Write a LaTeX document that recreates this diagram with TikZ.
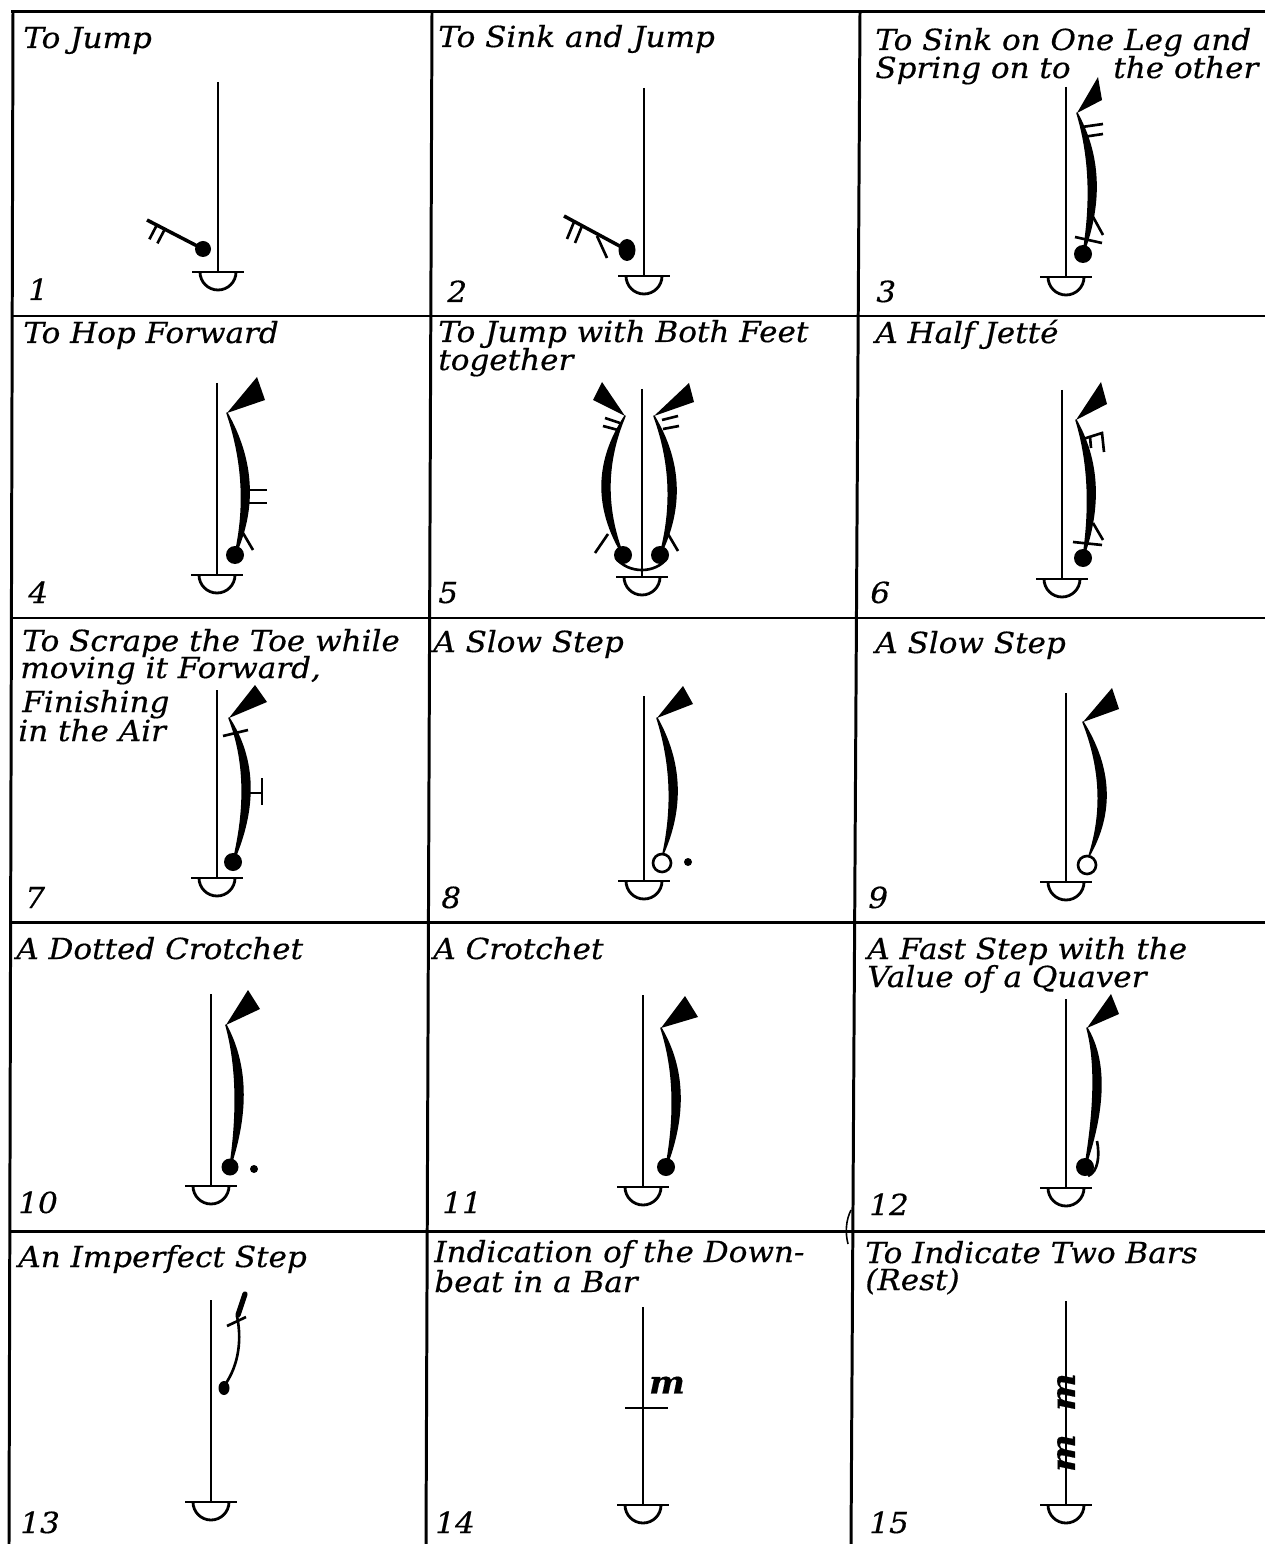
\documentclass[tikz,border=0pt]{standalone}
\usepackage{fontspec}
\setmainfont{DejaVu Serif}[FakeStretch=1.07, FakeBold=0.5]
\usetikzlibrary{calc}

% thick tapered stem from the flag joint (#1) through (#2) down to the foot (#3)
\newcommand{\legstem}[3]{%
  \filldraw[leg] (#1) .. controls ($1.3333*(#2)-0.3333*(#3)+(5.2,0)$) and ($1.3333*(#2)-0.3333*(#1)+(5.2,0)$) .. (#3)
    .. controls ($1.3333*(#2)-0.3333*(#1)-(5.2,0)$) and ($1.3333*(#2)-0.3333*(#3)-(5.2,0)$) .. cycle;}

\begin{document}
\begin{tikzpicture}[x=0.2mm, y=-0.2mm,
  grid/.style={line width=1.7pt},
  staff/.style={line width=1.1pt},
  foot/.style={line width=1.6pt},
  sign/.style={line width=1.5pt},
  leg/.style={line width=0.9pt, line join=round},
  lbl/.style={anchor=base west, inner sep=0pt, font=\fontsize{16.5}{18}\selectfont\itshape}]

  \useasboundingbox (0,0) rectangle (1265,1544);

  % Ruled table
  \draw[grid] (11,12) -- (1265,12);
  \foreach \y in {316,618,922,1231}
    \draw[grid] (11,\y) -- (1265,\y);
  \draw[grid] (13,12) -- (9,1544);
  \draw[grid] (432,12) -- (426,1544);
  \draw[grid] (860,12) -- (851,1544);
  \draw[line width=0.9pt] (851,1210) .. controls (846,1220) and (845,1232) .. (848,1244);

  % Titles
  \node[lbl] (t1) at (23,48) {To Jump};
  \node[lbl] (t2) at (438,47) {To Sink and Jump};
  \node[lbl] (t3a) at (875,50) {To Sink on One Leg and};
  \node[lbl] (t3b) at (875,78) {Spring on to};
  \node[lbl] (t3c) at (1113,78) {the other};
  \node[lbl] (t4) at (23,343) {To Hop Forward};
  \node[lbl] (t5a) at (438,342) {To Jump with Both Feet};
  \node[lbl] (t5b) at (438,370) {together};
  \node[lbl] (t6) at (875,343) {A Half Jetté};
  \node[lbl] (t7a) at (22,651) {To Scrape the Toe while};
  \node[lbl] (t7b) at (20,678) {moving it Forward,};
  \node[lbl] (t7c) at (22,712) {Finishing};
  \node[lbl] (t7d) at (18,741) {in the Air};
  \node[lbl] (t8) at (433,652) {A Slow Step};
  \node[lbl] (t9) at (875,653) {A Slow Step};
  \node[lbl] (t10) at (16,959) {A Dotted Crotchet};
  \node[lbl] (t11) at (433,959) {A Crotchet};
  \node[lbl] (t12a) at (867,959) {A Fast Step with the};
  \node[lbl] (t12b) at (867,987) {Value of a Quaver};
  \node[lbl] (t13) at (18,1267) {An Imperfect Step};
  \node[lbl] (t14a) at (434,1262) {Indication of the Down-};
  \node[lbl] (t14b) at (434,1292) {beat in a Bar};
  \node[lbl] (t15a) at (865,1263) {To Indicate Two Bars};
  \node[lbl] (t15b) at (865,1290) {(Rest)};

  % Numbers
  \node[lbl] (n1) at (28,300) {1};
  \node[lbl] (n2) at (447,302) {2};
  \node[lbl] (n3) at (876,302) {3};
  \node[lbl] (n4) at (28,603) {4};
  \node[lbl] (n5) at (438,603) {5};
  \node[lbl] (n6) at (870,603) {6};
  \node[lbl] (n7) at (25,908) {7};
  \node[lbl] (n8) at (441,908) {8};
  \node[lbl] (n9) at (868,908) {9};
  \node[lbl] (n10) at (18,1213) {10};
  \node[lbl] (n11) at (442,1213) {11};
  \node[lbl] (n12) at (869,1215) {12};
  \node[lbl] (n13) at (20,1533) {13};
  \node[lbl] (n14) at (435,1533) {14};
  \node[lbl] (n15) at (869,1533) {15};

  % Tracks with their half-circle feet
  \foreach \x/\ya/\yb in {218/82/272, 644/88/276, 1066/87/277,
      217/383/575, 642/389/577, 1062/390/579,
      217/690/878, 644/696/881, 1066/693/882,
      211/994/1186, 643/995/1187, 1066/999/1188,
      211/1300/1502, 643/1307/1505, 1066/1301/1505} {
    \draw[staff] (\x,\ya) -- (\x,\yb);
    \draw[foot] (\x-26,\yb) -- (\x+26,\yb);
    \draw[foot] (\x-18,\yb) arc[start angle=180, end angle=0, radius=18];
  }

  % 1: to jump
  \fill (203,249) circle[radius=8];
  \draw[sign, line width=2pt] (203,249) -- (147,220);
  \draw[sign] (156.8,225.1) -- (149.4,239.3);
  \draw[sign] (164.8,229.2) -- (157.4,243.4);

  % 2: to sink and jump
  \fill (627,250) ellipse[x radius=8.5, y radius=11];
  \draw[sign, line width=2pt] (627,250) -- (564,216);
  \draw[sign] (574,222) -- (567,239);
  \draw[sign] (582,226) -- (575,243);
  \draw[sign] (597,236) -- (607,258);

  % 3: sink on one leg, spring on to the other
  \fill (1077,113) -- (1098,77) -- (1102,100) -- cycle;
  \legstem{1077,113}{1092,180}{1083,254}
  \draw[sign] (1082,127) -- (1103,124);
  \draw[sign] (1083,137) -- (1103,134);
  \draw[sign] (1092,215) -- (1103,235);
  \draw[sign] (1075,237) -- (1102,243);
  \fill (1083,254) circle[radius=9];

  % 4: hop forward
  \fill (227,413) -- (257,377) -- (265,400) -- cycle;
  \legstem{227,413}{245,484}{235,555}
  \draw[sign] (247,490) -- (267,490);
  \draw[sign] (247,503) -- (267,503);
  \draw[sign] (243,533) -- (253,550);
  \fill (235,555) circle[radius=9];

  % 5: both feet together
  \fill (625,416) -- (593,400) -- (602,382) -- cycle;
  \fill (654,416) -- (694,402) -- (689,383) -- cycle;
  \legstem{625,416}{606,485}{623,555}
  \legstem{654,416}{672,485}{660,555}
  \draw[sign] (605,418) -- (620,423);
  \draw[sign] (603,426) -- (618,430);
  \draw[sign] (662,420) -- (678,416);
  \draw[sign] (663,429) -- (679,426);
  \draw[sign] (608,534) -- (595,553);
  \draw[sign] (668,534) -- (678,551);
  \fill (623,555) circle[radius=9];
  \fill (660,555) circle[radius=9];
  \draw[sign] (616,558) .. controls (628,574) and (656,574) .. (667,558);

  % 6: half jete
  \fill (1076,420) -- (1101,382) -- (1107,404) -- cycle;
  \legstem{1076,420}{1091,485}{1083,558}
  \draw[sign] (1083,439) -- (1102,433) -- (1104,452);
  \draw[sign] (1090,437) -- (1091,448);
  \draw[sign] (1093,523) -- (1103,540);
  \draw[sign] (1073,542) -- (1102,545);
  \fill (1083,558) circle[radius=9];

  % 7: scrape the toe
  \fill (229,718) -- (255,685) -- (267,702) -- cycle;
  \legstem{229,718}{246,785}{233,862}
  \draw[sign] (223,736) -- (248,730);
  \draw[sign] (247,793) -- (262,793);
  \draw[sign] (262,778) -- (262,805);
  \fill (233,862) circle[radius=9];

  % 8: slow step, dotted
  \fill (657,718) -- (683,686) -- (693,704) -- cycle;
  \legstem{657,718}{673,785}{663,854}
  \draw[sign] (662,863) circle[radius=9];
  \fill (688,862) circle[radius=4];

  % 9: slow step
  \fill (1083,722) -- (1112,688) -- (1119,709) -- cycle;
  \legstem{1083,722}{1102,790}{1089,856}
  \draw[sign] (1087,865) circle[radius=9];

  % 10: dotted crotchet
  \fill (226,1025) -- (248,990) -- (260,1009) -- cycle;
  \legstem{226,1025}{239,1090}{230,1167}
  \fill (230,1167) circle[radius=8.5];
  \fill (254,1169) circle[radius=4];

  % 11: crotchet
  \fill (661,1028) -- (685,996) -- (698,1017) -- cycle;
  \legstem{661,1028}{676,1093}{666,1167}
  \fill (666,1167) circle[radius=9];

  % 12: quaver
  \fill (1087,1028) -- (1111,994) -- (1119,1014) -- cycle;
  \legstem{1087,1028}{1097,1087}{1085,1167}
  \fill (1085,1167) circle[radius=9];
  \draw[sign] (1088,1176) .. controls (1098,1172) and (1100,1156) .. (1097,1141);

  % 13: imperfect step
  \draw[line width=3pt, line cap=round] (245,1294) -- (238,1315);
  \draw[sign] (227,1326) -- (246,1317);
  \draw[sign] (237,1316) .. controls (243,1345) and (236,1370) .. (224,1386);
  \fill (224,1388) ellipse[x radius=5.5, y radius=7];

  % 14: downbeat
  \draw[sign] (625,1408) -- (668,1408);
  \node[font=\fontsize{18}{18}\selectfont\bfseries\itshape] (m14) at (667,1385) {m};

  % 15: two bars rest
  \node[rotate=90, font=\fontsize{19}{18}\selectfont\bfseries\itshape] (m15a) at (1066,1392) {m};
  \node[rotate=90, font=\fontsize{19}{18}\selectfont\bfseries\itshape] (m15b) at (1066,1453) {m};
\end{tikzpicture}
\end{document}
